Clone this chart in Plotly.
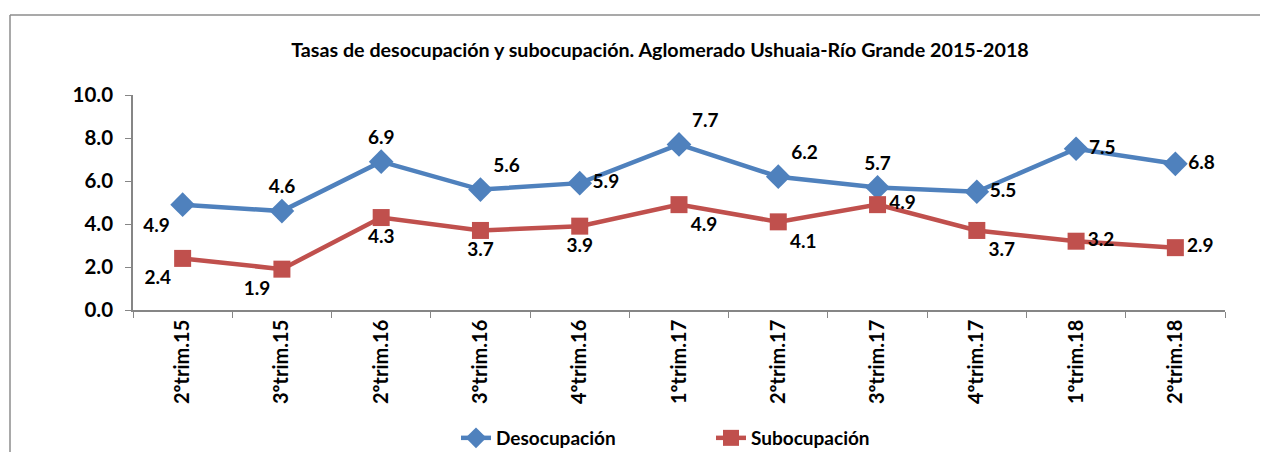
"""
Tasas de desocupación y subocupación — Ushuaia-Río Grande (Plotly)
"""
import plotly.graph_objects as go

# ─── DATA ──────────────────────────────────────────────────
periodos = ["2ºtrim.15", "3ºtrim.15", "2ºtrim.16", "3ºtrim.16", "4ºtrim.16",
            "1ºtrim.17", "2ºtrim.17", "3ºtrim.17", "4ºtrim.17", "1ºtrim.18", "2ºtrim.18"]
desocupacion = [4.9, 4.6, 6.9, 5.6, 5.9, 7.7, 6.2, 5.7, 5.5, 7.5, 6.8]
subocupacion = [2.4, 1.9, 4.3, 3.7, 3.9, 4.9, 4.1, 4.9, 3.7, 3.2, 2.9]

# label placement (as in the original Excel chart)
pos_deso = ["bottom left", "top center", "top center", "top right", "middle right",
            "top right", "top right", "top center", "middle right", "middle right", "middle right"]
pos_sub = ["bottom left", "bottom left", "bottom center", "bottom center", "bottom center",
           "bottom right", "bottom right", "middle right", "bottom right", "middle right", "middle right"]

# ─── STYLE ─────────────────────────────────────────────────
FONT = "Lato, 'Liberation Sans', sans-serif"
blue = "#4F81BD"
red = "#C0504D"
axis_gray = "#868686"
W, H = 1260, 444          # page body has an 8px margin

fig = go.Figure()

fig.add_trace(go.Scatter(
    x=periodos, y=desocupacion, name="Desocupación",
    mode="lines+markers+text",
    line=dict(color=blue, width=4.5),
    marker=dict(symbol="diamond", size=19, color=blue),
    text=[f"{v:.1f}" for v in desocupacion],
    textposition=pos_deso,
    textfont=dict(family=FONT, size=19, color="black", weight="bold"),
    cliponaxis=False,
))
fig.add_trace(go.Scatter(
    x=periodos, y=subocupacion, name="Subocupación",
    mode="lines+markers+text",
    line=dict(color=red, width=4.5),
    marker=dict(symbol="square", size=17, color=red),
    text=[f"{v:.1f}" for v in subocupacion],
    textposition=pos_sub,
    textfont=dict(family=FONT, size=19, color="black", weight="bold"),
    cliponaxis=False,
))

fig.update_layout(
    width=W, height=H,
    paper_bgcolor="white", plot_bgcolor="white",
    font=dict(family=FONT, color="black"),
    margin=dict(l=125, r=43, t=87, b=142),
    title=dict(
        text="Tasas de desocupación y subocupación. Aglomerado Ushuaia-Río Grande 2015-2018",
        font=dict(family=FONT, size=19.7, color="black", weight="bold"),
        x=652 / W, xanchor="center", xref="container",
        y=1 - 42 / H, yanchor="middle", yref="container",
    ),
    showlegend=True,
    legend=dict(
        orientation="h",
        x=448 / W, xanchor="left", xref="container",
        y=1 - 430 / H, yanchor="middle", yref="container",
        font=dict(family=FONT, size=19, color="black", weight="bold"),
        entrywidth=210, entrywidthmode="pixels",
        tracegroupgap=0,
    ),
)

fig.update_xaxes(
    type="category", range=[-0.5, len(periodos) - 0.5],
    showline=True, linecolor=axis_gray, linewidth=1.5,
    ticks="outside", tickson="boundaries", ticklen=6, tickcolor=axis_gray,
    tickangle=-90, showgrid=False, zeroline=False,
    tickfont=dict(family=FONT, size=20, color="black", weight="bold"),
)
fig.update_yaxes(
    range=[0, 10], dtick=2, tickformat=".1f",
    showline=True, linecolor=axis_gray, linewidth=1.5,
    ticks="outside", ticklen=6, tickcolor=axis_gray, ticklabelstandoff=8,
    showgrid=False, zeroline=False,
    tickfont=dict(family=FONT, size=20.5, color="black", weight="bold"),
)

# chart frame (left and top edges visible in the crop)
pw, ph = W - 125 - 43, H - 87 - 142
left = (10 - 133) / pw
top = 1 + (95 - 15) / ph
bottom = -3
fig.add_shape(type="line", xref="paper", yref="paper",
              x0=left, x1=left, y0=bottom, y1=top,
              line=dict(color="#8c8c8c", width=1.5))
fig.add_shape(type="line", xref="paper", yref="paper",
              x0=left, x1=2, y0=top, y1=top,
              line=dict(color="#8c8c8c", width=1.5))

fig.write_html("out.html")
